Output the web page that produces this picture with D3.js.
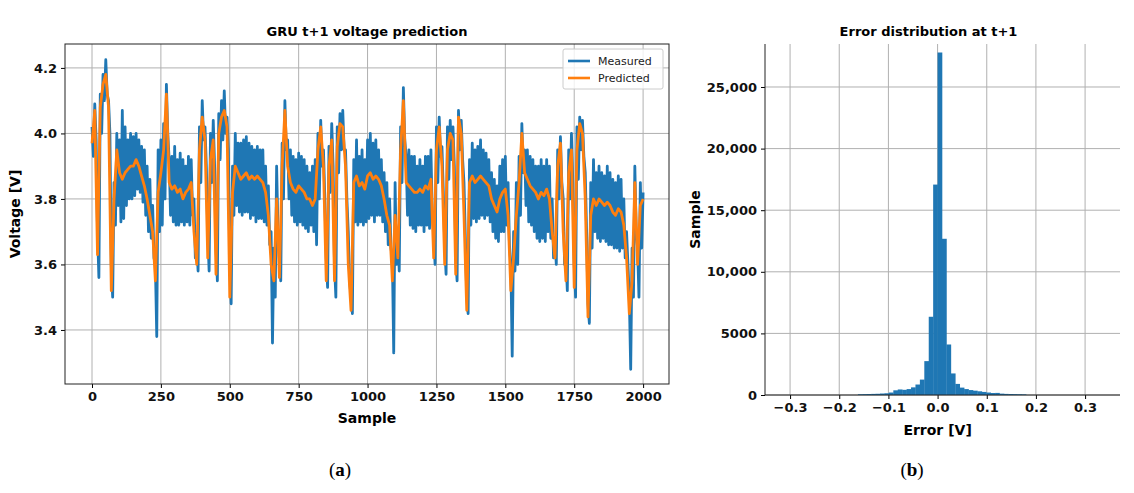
<!DOCTYPE html>
<html>
<head>
<meta charset="UTF-8">
<script src="https://cdn.jsdelivr.net/npm/d3@7"></script>
<style>
 body { margin: 0; background: #fff; }
 text { font-family: "DejaVu Sans", sans-serif; }
</style>
</head>
<body>
<div id="fig"></div>
<script>
// samples every 10 from 0 to 2000
const samples = d3.range(0, 2001, 10);
const predicted = [3.97,4.07,3.63,4.08,4.15,4.18,4.08,3.52,3.8,3.95,3.88,3.86,3.88,3.89,3.9,3.9,3.92,3.9,3.87,3.84,
 3.8,3.75,3.7,3.55,3.82,3.88,3.95,4.12,3.85,3.83,3.84,3.82,3.83,3.8,3.82,3.83,3.85,3.7,3.6,3.95,
 4.05,3.98,3.62,3.92,3.98,3.57,4.0,4.05,4.07,4.02,3.5,3.82,3.9,3.88,3.86,3.87,3.88,3.86,3.87,3.86,
 3.87,3.86,3.85,3.82,3.75,3.6,3.55,3.8,3.56,3.9,4.07,3.9,3.85,3.83,3.82,3.84,3.83,3.82,3.8,3.8,
 3.78,3.8,3.95,4.02,3.9,3.55,3.9,3.98,3.55,3.96,4.03,4.02,3.9,3.6,3.46,3.85,3.87,3.84,3.85,3.83,
 3.87,3.88,3.86,3.87,3.86,3.84,3.8,3.75,3.72,3.55,3.75,3.62,3.95,4.1,3.85,3.84,3.83,3.82,3.82,3.83,
 3.82,3.84,3.83,3.86,3.62,3.95,4.02,3.9,3.6,3.95,4.0,3.98,3.57,4.05,4.0,3.75,3.46,3.85,3.87,3.85,
 3.86,3.87,3.86,3.85,3.84,3.8,3.78,3.76,3.8,3.82,3.83,3.75,3.52,3.62,3.75,3.85,4.0,3.88,3.86,3.84,
 3.83,3.82,3.8,3.82,3.81,3.83,3.8,3.7,3.62,3.9,3.97,3.7,3.55,3.88,3.95,3.53,3.95,4.03,4.0,3.8,
 3.44,3.75,3.8,3.78,3.8,3.79,3.78,3.79,3.78,3.76,3.75,3.77,3.76,3.72,3.62,3.45,3.55,3.85,3.6,3.78,3.8];
// measured: local high and low of the oscillating signal in each 10-sample step
const measuredHigh = [4.02,4.09,3.7,4.12,4.18,4.225,4.1,3.6,3.85,4.0,3.98,4.07,4.02,3.98,4.0,3.99,4.0,3.98,3.96,3.95,
 3.9,3.86,3.78,3.6,3.95,3.98,4.03,4.15,3.92,3.93,3.96,3.92,3.94,3.92,3.9,3.93,3.92,3.8,3.66,4.02,
 4.1,4.02,3.7,4.0,4.04,3.65,4.06,4.1,4.13,4.05,3.6,3.9,4.0,3.97,3.97,3.98,3.99,3.97,3.96,3.95,
 3.96,3.95,3.95,3.9,3.84,3.7,3.65,3.9,3.62,3.97,4.1,3.98,3.95,3.93,3.92,3.94,3.93,3.92,3.9,3.88,
 3.9,3.92,4.0,4.04,3.95,3.62,3.96,4.03,3.6,4.02,4.06,4.07,3.95,3.7,3.5,3.92,3.98,3.93,3.95,3.92,
 3.98,4.0,3.97,3.98,3.95,3.92,3.88,3.85,3.8,3.62,3.85,3.7,4.02,4.14,3.93,3.95,3.93,3.93,3.9,3.92,
 3.9,3.93,3.93,3.95,3.7,4.02,4.05,3.96,3.66,4.02,4.04,4.02,3.62,4.07,4.04,3.85,3.5,3.92,3.97,3.95,
 3.96,3.98,3.95,3.94,3.92,3.88,3.86,3.84,3.9,3.92,3.93,3.85,3.6,3.7,3.85,3.93,4.03,3.95,3.95,3.93,
 3.92,3.9,3.9,3.92,3.9,3.92,3.9,3.8,3.68,3.95,3.99,3.8,3.62,3.95,4.0,3.6,4.02,4.05,4.04,3.88,
 3.48,3.85,3.92,3.88,3.9,3.88,3.87,3.9,3.88,3.86,3.85,3.87,3.86,3.8,3.7,3.5,3.65,3.9,3.65,3.85,3.82];
const measuredLow = [3.93,3.98,3.56,4.0,4.1,4.12,4.0,3.5,3.72,3.78,3.73,3.74,3.78,3.8,3.8,3.81,3.83,3.82,3.79,3.75,
 3.7,3.68,3.62,3.38,3.7,3.72,3.8,4.0,3.75,3.73,3.72,3.72,3.73,3.72,3.73,3.72,3.75,3.62,3.58,3.85,
 3.98,3.9,3.58,3.85,3.9,3.55,3.92,3.98,4.0,3.95,3.48,3.75,3.78,3.76,3.75,3.76,3.76,3.74,3.75,3.73,
 3.74,3.74,3.73,3.72,3.66,3.36,3.5,3.7,3.55,3.8,3.95,3.8,3.75,3.73,3.72,3.73,3.72,3.71,3.7,3.72,
 3.7,3.66,3.8,3.9,3.8,3.53,3.82,3.9,3.5,3.88,3.95,3.95,3.8,3.55,3.45,3.73,3.72,3.73,3.72,3.73,
 3.74,3.75,3.73,3.75,3.75,3.73,3.7,3.66,3.65,3.33,3.6,3.58,3.85,3.98,3.75,3.72,3.71,3.7,3.72,3.72,
 3.7,3.72,3.71,3.75,3.6,3.85,3.93,3.82,3.57,3.86,3.92,3.9,3.55,3.95,3.92,3.68,3.45,3.72,3.74,3.73,
 3.74,3.75,3.74,3.75,3.73,3.7,3.68,3.67,3.7,3.7,3.72,3.66,3.32,3.58,3.6,3.75,3.88,3.78,3.73,3.72,
 3.7,3.68,3.67,3.68,3.67,3.7,3.68,3.62,3.6,3.8,3.85,3.6,3.52,3.8,3.85,3.5,3.86,3.95,3.93,3.7,
 3.42,3.65,3.7,3.68,3.67,3.68,3.67,3.66,3.66,3.65,3.65,3.64,3.65,3.62,3.6,3.28,3.5,3.7,3.5,3.65,3.7];

// histogram of prediction error
const binStart = -0.162, binWidth = 0.009;
const binCounts = [60,70,80,90,100,120,140,200,380,450,420,480,620,850,1250,2750,6350,17080,
 27800,12680,4100,1750,900,600,480,400,350,300,250,200,160,170,110,90,80,70,60,50];

const xTicksA = [0,250,500,750,1000,1250,1500,1750,2000];
const yTicksA = [3.4,3.6,3.8,4.0,4.2];
const xTicksB = [-0.3,-0.2,-0.1,0.0,0.1,0.2,0.3];
const yTicksB = [0,5000,10000,15000,20000,25000];

const W = 1134, H = 493;
const blue = "#1f77b4", orange = "#ff7f0e";
const svg = d3.select("#fig").append("svg").attr("width", W).attr("height", H);

function frame(g, x, y, w, h, xt, yt, xf, yf) {
  g.append("g").selectAll("line.gx").data(xt).enter().append("line")
   .attr("x1", d => x(d)).attr("x2", d => x(d)).attr("y1", 0).attr("y2", h)
   .attr("stroke", "#b0b0b0").attr("stroke-width", 1);
  g.append("g").selectAll("line.gy").data(yt).enter().append("line")
   .attr("y1", d => y(d)).attr("y2", d => y(d)).attr("x1", 0).attr("x2", w)
   .attr("stroke", "#b0b0b0").attr("stroke-width", 1);
  const ax = g.append("g").attr("transform", `translate(0,${h})`)
   .call(d3.axisBottom(x).tickValues(xt).tickFormat(xf).tickSize(4).tickPadding(4));
  const ay = g.append("g").call(d3.axisLeft(y).tickValues(yt).tickFormat(yf).tickSize(4).tickPadding(4));
  [ax, ay].forEach(a => {
    a.select(".domain").remove();
    a.selectAll("text").attr("font-size", 13).attr("font-weight", "bold").attr("fill", "#111")
     .style("font-family", "DejaVu Sans");
  });
}

// ---- (a) time series
const A = {left: 65, top: 44, w: 604, h: 340};
const xA = d3.scaleLinear().domain([-98, 2094]).range([0, A.w]);
const yA = d3.scaleLinear().domain([3.235, 4.273]).range([A.h, 0]);
const gA = svg.append("g").attr("transform", `translate(${A.left},${A.top})`);
frame(gA, xA, yA, A.w, A.h, xTicksA, yTicksA, d3.format("d"), d3.format(".1f"));

const measPts = [];
samples.forEach((s, i) => {
  measPts.push([s, measuredHigh[i]]);
  if (i < samples.length - 1) measPts.push([s + 5, measuredLow[i]]);
});
gA.append("path").datum(measPts)
  .attr("d", d3.line().x(d => xA(d[0])).y(d => yA(d[1])))
  .attr("fill", "none").attr("stroke", blue).attr("stroke-width", 2.8).attr("stroke-linejoin", "round");
gA.append("path").datum(samples.map((s, i) => [s, predicted[i]]))
  .attr("d", d3.line().x(d => xA(d[0])).y(d => yA(d[1])))
  .attr("fill", "none").attr("stroke", orange).attr("stroke-width", 2.8).attr("stroke-linejoin", "round");
gA.append("rect").attr("width", A.w).attr("height", A.h).attr("fill", "none").attr("stroke", "#222");

const leg = gA.append("g").attr("transform", `translate(${A.w - 106},5)`);
leg.append("rect").attr("width", 100).attr("height", 40).attr("rx", 2)
   .attr("fill", "#fff").attr("fill-opacity", 0.8).attr("stroke", "#ccc");
[["Measured", blue], ["Predicted", orange]].forEach((d, i) => {
  leg.append("line").attr("x1", 5).attr("x2", 27).attr("y1", 12 + i * 17).attr("y2", 12 + i * 17)
     .attr("stroke", d[1]).attr("stroke-width", 2.6);
  leg.append("text").attr("x", 35).attr("y", 16 + i * 17).attr("font-size", 11).attr("fill", "#222").text(d[0]);
});
gA.append("text").attr("x", A.w / 2).attr("y", -8).attr("text-anchor", "middle")
  .attr("font-size", 13).attr("font-weight", "bold").text("GRU t+1 voltage prediction");
gA.append("text").attr("x", A.w / 2).attr("y", A.h + 39).attr("text-anchor", "middle")
  .attr("font-size", 14).attr("font-weight", "bold").text("Sample");
gA.append("text").attr("transform", `translate(-45,${A.h / 2}) rotate(-90)`).attr("text-anchor", "middle")
  .attr("font-size", 14).attr("font-weight", "bold").text("Voltage [V]");

// ---- (b) histogram
const B = {left: 765, top: 44, w: 355, h: 351};
const xB = d3.scaleLinear().domain([-0.351, 0.371]).range([0, B.w]);
const yB = d3.scaleLinear().domain([0, 28490]).range([B.h, 0]);
const gB = svg.append("g").attr("transform", `translate(${B.left},${B.top})`);
frame(gB, xB, yB, B.w, B.h, xTicksB, yTicksB,
  d => d3.format(".1f")(d).replace("-", "\u2212"),
  d => d >= 10000 ? d3.format(",")(d) : String(d));
gB.selectAll("rect.bar").data(binCounts).enter().append("rect")
  .attr("x", (d, i) => xB(binStart + i * binWidth))
  .attr("width", (d, i) => xB(binStart + (i + 1) * binWidth) - xB(binStart + i * binWidth) + 0.3)
  .attr("y", d => yB(d)).attr("height", d => B.h - yB(d))
  .attr("fill", blue);
gB.append("line").attr("x1", 0).attr("x2", 0).attr("y1", 0).attr("y2", B.h).attr("stroke", "#222");
gB.append("line").attr("x1", 0).attr("x2", B.w).attr("y1", B.h).attr("y2", B.h).attr("stroke", "#222");
gB.append("text").attr("x", B.w / 2 - 14).attr("y", -8).attr("text-anchor", "middle")
  .attr("font-size", 13).attr("font-weight", "bold").text("Error distribution at t+1");
gB.append("text").attr("x", xB(0)).attr("y", B.h + 40).attr("text-anchor", "middle")
  .attr("font-size", 14).attr("font-weight", "bold").text("Error [V]");
gB.append("text").attr("transform", `translate(-65,${B.h / 2}) rotate(-90)`).attr("text-anchor", "middle")
  .attr("font-size", 14).attr("font-weight", "bold").text("Sample");

// captions
[["a", 340], ["b", 912]].forEach(c => {
  const t = svg.append("text").attr("x", c[1]).attr("y", 476).attr("text-anchor", "middle")
    .attr("font-size", 19).style("font-family", "Liberation Serif, serif");
  t.append("tspan").text("(");
  t.append("tspan").attr("font-weight", "bold").text(c[0]);
  t.append("tspan").text(")");
});
</script>
</body>
</html>
